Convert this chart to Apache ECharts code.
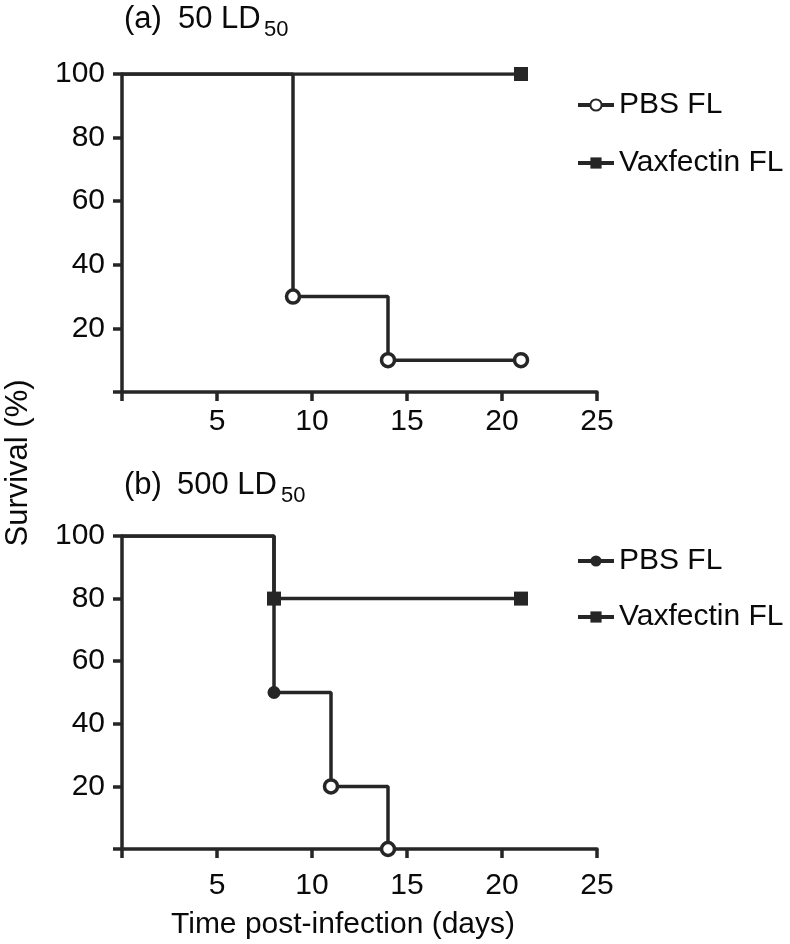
<!DOCTYPE html>
<html>
<head>
<meta charset="utf-8">
<script src="https://cdn.jsdelivr.net/npm/echarts@6/dist/echarts.min.js"></script>
<style>
html,body{margin:0;padding:0;background:#fff;}
#chart{width:790px;height:944px;}
</style>
</head>
<body>
<div id="chart"></div>
<script>
// ---- data ----
const xTickValues = [0, 5, 10, 15, 20, 25];
const yTickValues = [0, 20, 40, 60, 80, 100];

// Panel (a) 50 LD50
const pbsA_days = [0, 9, 14, 21];
const pbsA_surv = [100, 30, 10, 10];
const pbsA_open = [null, true, true, true];
const vaxA_days = [0, 21];
const vaxA_surv = [100, 100];

// Panel (b) 500 LD50
const pbsB_days = [0, 8, 11, 14];
const pbsB_surv = [100, 50, 20, 0];
const pbsB_open = [null, false, true, true];
const vaxB_days = [0, 8, 21];
const vaxB_surv = [100, 80, 80];

const seriesNames = ['PBS FL', 'Vaxfectin FL'];

// ---- styling ----
const FONT = "'Liberation Sans', Arial, Helvetica, sans-serif";
const INK = '#262626';
const TXT = '#0a0a0a';

function xAxis(gridIndex, margin) {
  return {
    type: 'value', gridIndex: gridIndex, min: 0, max: 25, interval: 5,
    axisLine: { show: true, onZero: false, lineStyle: { color: INK, width: 3.5 } },
    axisTick: { show: true, length: 9, lineStyle: { color: INK, width: 3.5 } },
    axisLabel: { margin: margin, fontSize: 30, color: TXT, fontFamily: FONT,
      formatter: v => (v === 0 ? '' : String(v)) },
    splitLine: { show: false }
  };
}
function yAxis(gridIndex) {
  return {
    type: 'value', gridIndex: gridIndex, min: 0, max: 100, interval: 20,
    axisLine: { show: true, onZero: false, lineStyle: { color: INK, width: 3.5 } },
    axisTick: { show: true, length: 9, lineStyle: { color: INK, width: 3.5 } },
    axisLabel: { margin: 17, fontSize: 30, color: TXT, fontFamily: FONT,
      formatter: v => (v === 0 ? '' : String(v)) },
    splitLine: { show: false }
  };
}

function pointData(xs, ys, openFlags) {
  return xs.map((x, i) => {
    const item = { value: [x, ys[i]] };
    if (i === 0) {
      item.symbol = 'none';
    } else if (openFlags) {
      item.itemStyle = openFlags[i]
        ? { color: '#fff', borderColor: INK, borderWidth: 3.5 }
        : { color: INK, borderColor: INK, borderWidth: 0 };
    }
    return item;
  });
}

function stepSeries(name, idx, xs, ys, openFlags, shape, size, open) {
  return {
    name: name, type: 'line', xAxisIndex: idx, yAxisIndex: idx,
    step: 'end', symbol: shape, symbolSize: size, showAllSymbol: true,
    lineStyle: { color: INK, width: 3.5 },
    itemStyle: open ? { color: '#fff', borderColor: INK, borderWidth: 3.5 }
                    : { color: INK, borderColor: INK, borderWidth: 0 },
    emphasis: { disabled: true },
    animation: false, z: 3,
    data: pointData(xs, ys, openFlags)
  };
}

const chart = echarts.init(document.getElementById('chart'), null, { renderer: 'canvas' });

const legendText = { fontSize: 30, color: TXT, fontFamily: FONT };

chart.setOption({
  backgroundColor: '#fff',
  animation: false,
  grid: [
    { left: 122, top: 74, width: 475, height: 318 },
    { left: 122, top: 536, width: 475, height: 313 }
  ],
  xAxis: [xAxis(0, 15), xAxis(1, 22)],
  yAxis: [yAxis(0), yAxis(1)],
  legend: [
    { orient: 'vertical', left: 571, top: 85, itemGap: 28, itemWidth: 36, itemHeight: 14,
      lineStyle: { width: 4 },
      data: ['PBS FL', 'Vaxfectin FL'], textStyle: legendText, selectedMode: false },
    { orient: 'vertical', left: 571, top: 541, itemGap: 26, itemWidth: 36, itemHeight: 14,
      lineStyle: { width: 4 },
      data: ['PBS FL ', 'Vaxfectin FL '], textStyle: legendText, selectedMode: false,
      formatter: n => n.trim() }
  ],
  series: [
    stepSeries(seriesNames[0], 0, pbsA_days, pbsA_surv, pbsA_open, 'circle', 13, true),
    stepSeries(seriesNames[1], 0, vaxA_days, vaxA_surv, null, 'rect', 14, false),
    stepSeries(seriesNames[0] + ' ', 1, pbsB_days, pbsB_surv, pbsB_open, 'circle', 13, false),
    stepSeries(seriesNames[1] + ' ', 1, vaxB_days, vaxB_surv, null, 'rect', 14, false)
  ],
  graphic: [
    { type: 'text', left: 124, top: 4, style: { text: '(a)', font: '31px ' + FONT, fill: TXT } },
    { type: 'text', left: 178, top: 4, style: { text: '50 LD', font: '31px ' + FONT, fill: TXT } },
    { type: 'text', left: 264, top: 19, style: { text: '50', font: '22px ' + FONT, fill: TXT } },
    { type: 'text', left: 124, top: 470, style: { text: '(b)', font: '31px ' + FONT, fill: TXT } },
    { type: 'text', left: 177, top: 470, style: { text: '500 LD', font: '31px ' + FONT, fill: TXT } },
    { type: 'text', left: 281, top: 485, style: { text: '50', font: '22px ' + FONT, fill: TXT } },
    { type: 'text', x: 18, y: 463, rotation: Math.PI / 2,
      style: { text: 'Survival (%)', font: '31px ' + FONT, fill: TXT, align: 'center', verticalAlign: 'middle' } },
    { type: 'text', x: 343, y: 925,
      style: { text: 'Time post-infection (days)', font: '30px ' + FONT, fill: TXT, align: 'center', verticalAlign: 'middle' } }
  ]
});
</script>
</body>
</html>
